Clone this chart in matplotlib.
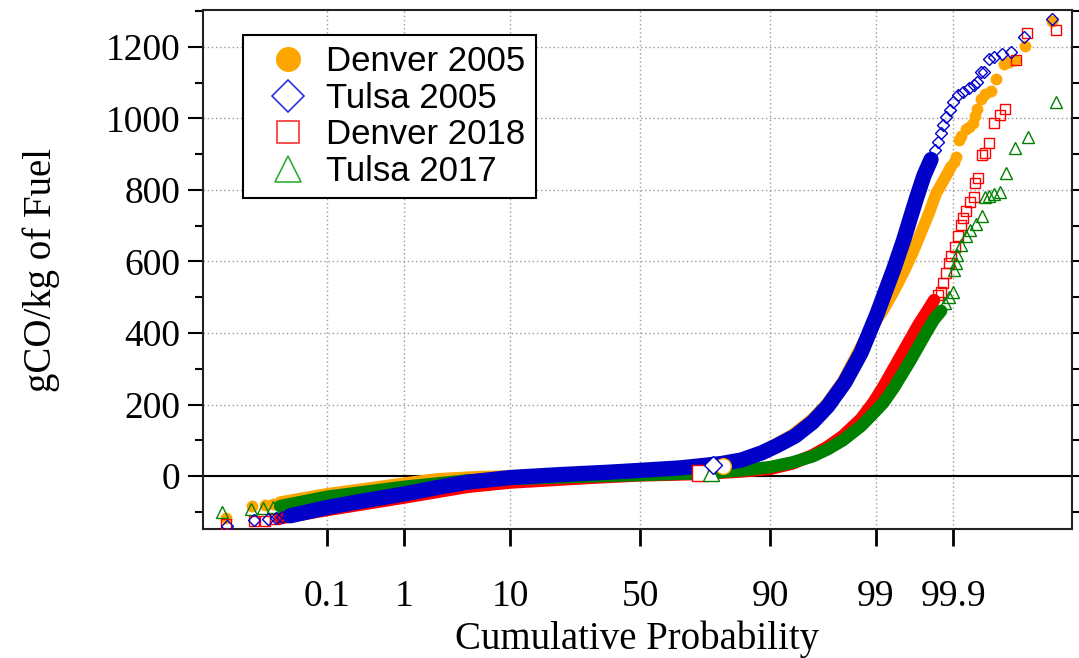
import matplotlib
matplotlib.use('Agg')
import matplotlib.pyplot as plt
from matplotlib.lines import Line2D
from matplotlib.ticker import FixedLocator, MultipleLocator
from statistics import NormalDist

# x positions are normal scores (probit of the cumulative probability)
prob_ticks = [0.1, 1, 10, 50, 90, 99, 99.9]
prob_labels = ['0.1', '1', '10', '50', '90', '99', '99.9']

# Denver 2005 - dense run of samples and the sparse tails
den05_band_z = [-3.55, -3.09, -2.7, -2.326, -2.0, -1.6, -1.28, -0.5, 0.0, 0.5, 0.82,
                1.0, 1.2, 1.5, 1.7, 1.85, 2.0, 2.12, 2.25, 2.4, 2.5, 2.6, 2.69,
                2.77, 2.85, 2.92, 3.0, 3.07]
den05_band_v = [-73, -50, -35, -20, -8, -2, 0, 8, 13, 22, 30,
                45, 68, 115, 160, 205, 265, 330, 400, 465, 515, 570, 625,
                680, 735, 790, 830, 866]
den05_pts_z = [-4.08, -3.83, -3.70, -3.62, 3.10, 3.12, 3.15, 3.17, 3.21, 3.24, 3.28,
               3.30, 3.32, 3.36, 3.40, 3.46, 3.51, 3.59, 3.64, 3.70, 3.80, 4.06]
den05_pts_v = [-118, -84, -81, -77, 879, 893, 940, 951, 969, 977, 988,
               1007, 1025, 1053, 1068, 1076, 1109, 1153, 1158, 1163, 1202, 1273]
den05_open = (0.82, 27)

# Tulsa 2005
tul05_band_z = [-3.45, -3.09, -2.7, -2.326, -2.0, -1.7, -1.28, -0.8, -0.3, 0.0, 0.4,
                0.8, 1.0, 1.2, 1.35, 1.53, 1.7, 1.85, 2.02, 2.18, 2.34, 2.51, 2.6,
                2.67, 2.73, 2.8, 2.87]
tul05_band_v = [-111, -88, -68, -50, -32, -17, -4, 4, 11, 16, 23,
                35, 45, 65, 85, 112, 150, 195, 262, 345, 455, 585, 660,
                725, 780, 840, 885]
tul05_pts_z = [-4.07, -3.81, -3.67, -3.59, -3.53, 2.91, 2.94, 2.97, 2.99, 3.02, 3.06,
               3.09, 3.14, 3.19, 3.24, 3.29, 3.32, 3.36, 3.39, 3.44, 3.49, 3.57,
               3.66, 3.79, 4.06]
tul05_pts_v = [-140, -123, -120, -117, -114, 912, 935, 958, 981, 1005, 1023,
               1047, 1065, 1074, 1084, 1093, 1102, 1130, 1130, 1167, 1172, 1181,
               1186, 1228, 1279]
tul05_open = (0.72, 32)

# Denver 2018
den18_band_z = [-3.55, -3.09, -2.326, -1.7, -1.28, -0.5, 0.0, 0.59, 1.0, 1.28, 1.5,
                1.7, 1.85, 2.0, 2.18, 2.3, 2.4, 2.51, 2.6, 2.67, 2.75, 2.83, 2.9]
den18_band_v = [-118, -95, -60, -30, -18, -5, 2, 6, 13, 20, 35,
                58, 82, 112, 160, 205, 250, 305, 350, 385, 425, 460, 492]
den18_pts_z = [-4.08, -3.81, -3.70, -3.60, 2.94, 2.97, 2.99, 3.02, 3.05, 3.07, 3.11,
               3.14, 3.17, 3.19, 3.21, 3.25, 3.29, 3.30, 3.33, 3.37, 3.40, 3.44,
               3.49, 3.55, 3.60, 3.71, 3.82, 4.10]
den18_pts_v = [-134, -126, -126, -120, 505, 516, 540, 567, 595, 614, 640,
               670, 702, 721, 740, 765, 780, 820, 833, 898, 904, 932,
               988, 1009, 1025, 1163, 1239, 1247]
den18_open = (0.59, 8)

# Tulsa 2017
tul17_band_z = [-3.55, -3.09, -2.326, -1.7, -1.28, -0.5, 0.0, 0.7, 1.0, 1.28, 1.5,
                1.7, 1.85, 2.0, 2.18, 2.3, 2.4, 2.51, 2.67, 2.83, 2.9, 2.97]
tul17_band_v = [-84, -58, -30, -12, -8, -1, 3, 9, 16, 25, 38,
                55, 75, 100, 140, 175, 205, 250, 325, 405, 438, 462]
tul17_pts_z = [-4.12, -3.84, -3.72, -3.62, 3.01, 3.05, 3.09, 3.10, 3.12, 3.13, 3.17,
               3.21, 3.25, 3.31, 3.37, 3.40, 3.44, 3.49, 3.55, 3.61, 3.70, 3.83, 4.10]
tul17_pts_v = [-101, -92, -90, -86, 484, 502, 516, 577, 595, 619, 647,
               670, 688, 705, 727, 779, 783, 788, 795, 847, 916, 947, 1047]
tul17_open = (0.705, 10)

plt.rcParams['font.family'] = 'Liberation Serif'

fig = plt.figure(figsize=(10.79, 6.58), dpi=100)
ax = fig.add_axes([0.1881, 0.1960, 0.8054, 0.7888])

ax.axhline(0, color='black', lw=1.5, zorder=1.5)

# drawn bottom to top: orange, red, green, blue
styles = [
    ('Denver 2005', den05_band_z, den05_band_v, den05_pts_z, den05_pts_v, den05_open,
     '#FFA500', 'o', 7.5, 8.5, True),
    ('Denver 2018', den18_band_z, den18_band_v, den18_pts_z, den18_pts_v, den18_open,
     '#FF0000', 's', 7.5, 9.0, False),
    ('Tulsa 2017', tul17_band_z, tul17_band_v, tul17_pts_z, tul17_pts_v, tul17_open,
     '#008000', '^', 8.0, 9.0, False),
    ('Tulsa 2005', tul05_band_z, tul05_band_v, tul05_pts_z, tul05_pts_v, tul05_open,
     '#0000C8', 'D', 6.0, 11.0, False),
]

for i, (name, bz, bv, pz, pv, op, col, mk, ms, lw, filled) in enumerate(styles):
    z = 2 + i
    ax.plot(bz, bv, color=col, lw=lw, solid_capstyle='round',
            solid_joinstyle='round', zorder=z)
    ax.plot(pz, pv, ls='none', marker=mk, ms=ms,
            mfc=col if filled else 'none', mec=col, mew=1.0, zorder=z)
    ax.plot([op[0]], [op[1]], ls='none', marker=mk, ms=ms * 1.5 if mk != 'D' else 9,
            mfc='white', mec=col, mew=1.0, zorder=6)

# probability axis
tick_pos = [NormalDist().inv_cdf(p / 100) for p in prob_ticks]
ax.set_xlim(-4.31, 4.26)
ax.xaxis.set_major_locator(FixedLocator(tick_pos))
ax.set_xticklabels(prob_labels)
ax.set_ylim(-148, 1303)
ax.yaxis.set_major_locator(FixedLocator(range(0, 1201, 200)))
ax.yaxis.set_minor_locator(MultipleLocator(100))

ax.grid(True, which='major', ls=(0, (1, 2)), color='#9a9a9a', lw=1.0)
ax.set_axisbelow(True)

ax.tick_params(axis='x', which='major', direction='out', length=12, width=2,
               pad=24, labelsize=27)
ax.tick_params(axis='y', which='major', direction='out', length=11, width=1.5,
               pad=5, labelsize=27, right=True)
ax.tick_params(axis='y', which='minor', direction='out', length=5.5, width=1.5,
               right=True)
for s in ax.spines.values():
    s.set_linewidth(1.5)
    s.set_color('#222222')

ax.set_xlabel('Cumulative Probability', fontsize=28)
ax.set_ylabel('gCO/kg of Fuel', fontsize=28)
ax.xaxis.set_label_coords(0.5, -0.176)
ax.yaxis.set_label_coords(-0.165, 0.5)

handles = [
    Line2D([], [], ls='none', marker='o', ms=17, mfc='#FFA500', mec='#FFA500'),
    Line2D([], [], ls='none', marker='D', ms=16, mfc='none', mec='#3030E0', mew=1.2),
    Line2D([], [], ls='none', marker='s', ms=16, mfc='none', mec='#FF3030', mew=1.2),
    Line2D([], [], ls='none', marker='^', ms=19, mfc='none', mec='#30B030', mew=1.2),
]
leg = ax.legend(handles, ['Denver 2005', 'Tulsa 2005', 'Denver 2018', 'Tulsa 2017'],
                loc='upper left', bbox_to_anchor=(0.046, 0.952), borderaxespad=0,
                prop={'family': 'Liberation Sans', 'size': 25}, frameon=True,
                fancybox=False, framealpha=1, edgecolor='black', labelspacing=0.1,
                handletextpad=0.1, borderpad=0.3, handlelength=2.0)
leg.get_frame().set_linewidth(1.5)

fig.savefig('out.png', dpi=100)
